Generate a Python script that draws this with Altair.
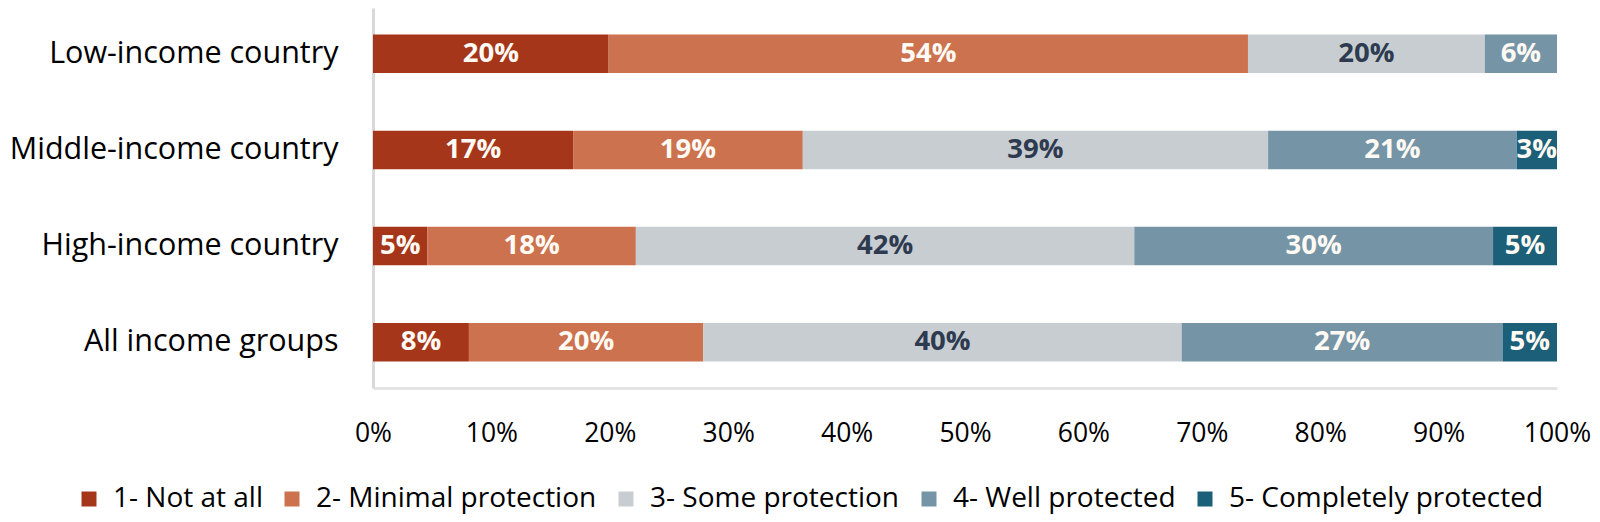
import altair as alt
import pandas as pd

categories = ["Low-income country", "Middle-income country", "High-income country", "All income groups"]
levels = ["1- Not at all", "2- Minimal protection", "3- Some protection",
          "4- Well protected", "5- Completely protected"]
colors = ["#A5361A", "#CC724E", "#C8CDD1", "#7594A6", "#1B5F78"]

not_at_all = [19.9, 16.9, 4.6, 8.1]
minimal = [54.0, 19.4, 17.6, 19.8]
some = [20.0, 39.3, 42.1, 40.4]
well = [6.1, 21.0, 30.3, 27.1]
complete = [0.0, 3.4, 5.4, 4.6]
x_ticks = [0, 10, 20, 30, 40, 50, 60, 70, 80, 90, 100]

series = [not_at_all, minimal, some, well, complete]
rows = []
for li, (lvl, vals) in enumerate(zip(levels, series)):
    for ci, cat in enumerate(categories):
        if vals[ci] > 0:
            rows.append({"category": cat, "level": lvl, "order": li + 1, "value": vals[ci]})
df = pd.DataFrame(rows)

FONT = "Open Sans"

base = alt.Chart(df).transform_stack(
    stack="value", groupby=["category"], as_=["x0", "x1"],
    sort=[alt.SortField("order", order="ascending")]
).transform_calculate(
    mid="(datum.x0 + datum.x1) / 2",
    label="format(datum.value / 100, '.0%')"
)

y_enc = alt.Y("category:N", sort=categories,
              scale=alt.Scale(paddingInner=0.6, paddingOuter=0.275),
              axis=alt.Axis(title=None, ticks=False, domainColor="#D9D9D9", domainWidth=3,
                            labelFont=FONT, labelFontSize=30.5, labelColor="#000000",
                            labelPadding=35, labelLimit=600))

bars = base.mark_bar().encode(
    x=alt.X("x0:Q", scale=alt.Scale(domain=[0, 100], nice=False, zero=True),
            axis=alt.Axis(title=None, values=x_ticks, labelExpr="datum.value + '%'",
                          ticks=False, grid=False, domainColor="#E4E4E4", domainWidth=3,
                          labelFont=FONT, labelFontSize=26.5, labelColor="#000000",
                          labelPadding=32, labelFlush=False)),
    x2="x1:Q",
    y=y_enc,
    color=alt.Color("level:N", scale=alt.Scale(domain=levels, range=colors),
                    legend=alt.Legend(title=None, orient="none", direction="horizontal",
                                      legendX=-298, legendY=477, symbolType="square",
                                      symbolSize=225, symbolStrokeWidth=0,
                                      labelFont=FONT, labelFontSize=28, labelColor="#000000",
                                      labelOffset=10, columnPadding=15, padding=0,
                                      labelLimit=600)),
)

text = base.mark_text(font=FONT, fontWeight="bold", fontSize=27.5, baseline="middle").encode(
    x=alt.X("mid:Q"),
    y=alt.Y("category:N", sort=categories),
    text="label:N",
    color=alt.condition("datum.order == 3", alt.value("#2E3A4F"), alt.value("#FFFAF4")),
)

chart = alt.layer(bars, text).properties(
    width=1184, height=380,
    padding={"left": 365, "top": 0, "right": 35, "bottom": 126},
    autosize="none",
).configure_view(stroke=None)

chart.save("out.html", embed_options={"renderer": "svg", "actions": False})
